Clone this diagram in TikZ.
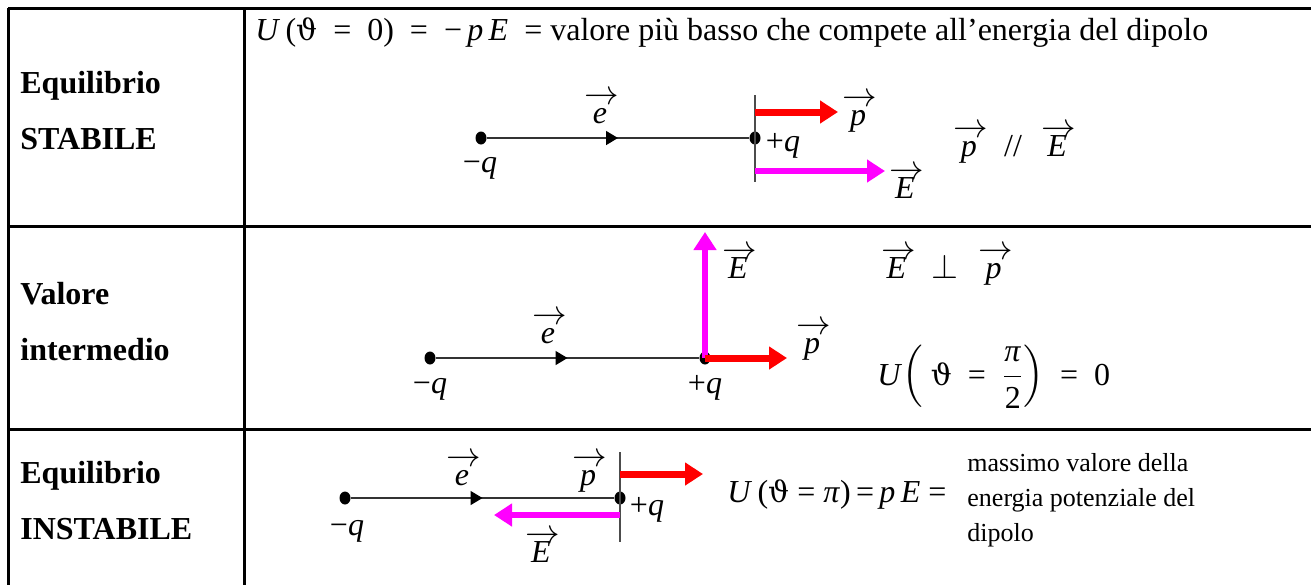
\documentclass[tikz,border=0pt]{standalone}
\usepackage{fontspec}
\setmainfont{Liberation Serif}
\newfontfamily\thetafont[Scale=0.92]{DejaVu Serif}
\usepackage{amsmath}
\usepackage{tikz}
\usetikzlibrary{arrows.meta,positioning,decorations.markings,shapes.geometric}
\usepackage{xcolor}
\definecolor{fieldmag}{RGB}{255,0,255}
\definecolor{dipred}{RGB}{255,0,0}

\newcommand{\vct}[1]{\ooalign{\hfil\textit{#1}\hfil\cr\hfil\kern2pt\raisebox{9.5pt}{$\rightarrow$}\hfil\cr}}

\begin{document}
\begin{tikzpicture}[
    x=0.5pt, y=-0.5pt,
    grid/.style={line width=1.5pt},
    rowlabel/.style={font=\bfseries\fontsize{16}{28}\selectfont, align=left, anchor=base west, inner sep=0},
    txt/.style={font=\fontsize{16}{19}\selectfont, anchor=base, inner sep=0},
    small/.style={font=\fontsize{13}{17.3}\selectfont, align=left, anchor=base west, inner sep=0},
    charge/.style={ellipse, fill, inner sep=0, minimum width=5.5pt, minimum height=6.5pt},
    dipole/.style={draw=black!80, line width=0.75pt, postaction={decorate},
        decoration={markings, mark=at position 0.5 with {\arrow[black]{Triangle[length=6pt,width=7pt]}}}},
    axis/.style={draw=black!70, line width=0.6pt},
    pvec/.style={draw=dipred, line width=3.5pt, -{Triangle[length=9pt,width=11pt]}},
    evec/.style={draw=fieldmag, line width=3pt, -{Triangle[length=9pt,width=11pt]}}
]
\useasboundingbox (0,0) rectangle (1311,585);

% table
\draw[grid] (8,8) -- (1311,8);
\draw[grid] (8,226) -- (1311,226);
\draw[grid] (8,429) -- (1311,429);
\draw[grid] (8,8) -- (8,585);
\draw[grid] (244,8) -- (244,585);

% row 1: equilibrio stabile
\node (lab1) [rowlabel] at (20,149) {Equilibrio\\STABILE};
\node (eq1) [txt, anchor=base west] at (255,40) {\textit{U}\,({\thetafont ϑ}~~=~~0)~~=~~−\,\textit{p\,E}~~=~valore più basso che compete all'energia del dipolo};
\node (nq1) [charge] at (481,138) {};
\node (pq1) [charge] at (755,138) {};
\coordinate (ax1t) at (755,95);
\coordinate (ax1b) at (755,182);
\coordinate (p1tip) at (838,112);
\coordinate (p1s) at (755,112);
\coordinate (E1tip) at (885,171);
\coordinate (E1s) at (755,171);
\draw[axis] (ax1t) -- (ax1b);
\draw[dipole] (nq1) -- (pq1);
\draw[pvec] (p1s) -- (p1tip);
\draw[evec] (E1s) -- (E1tip);
\node (e1) [txt] at (600,123) {\vct{e}};
\node (mq1) [txt] at (480,172) {−\textit{q}};
\node (qq1) [txt] at (783,151) {+\textit{q}};
\node (p1) [txt] at (858,125) {\vct{p}};
\node (E1) [txt] at (905,198) {\vct{E}};
\node (par1) [txt] at (1013,156) {\vct{p}~~//~~\vct{E}};

% row 2: valore intermedio
\node (lab2) [rowlabel] at (20,360) {Valore\\intermedio};
\node (nq2) [charge] at (430,358) {};
\node (pq2) [charge] at (705,358) {};
\coordinate (E2tip) at (705,232);
\coordinate (p2tip) at (787,358);
\draw[dipole] (nq2) -- (pq2);
\draw[evec] (pq2.center) -- (E2tip);
\draw[pvec] (pq2.center) -- (p2tip);
\node (e2) [txt] at (548,343) {\vct{e}};
\node (mq2) [txt] at (430,393) {−\textit{q}};
\node (qq2) [txt] at (705,393) {+\textit{q}};
\node (E2) [txt] at (738,278) {\vct{E}};
\node (p2) [txt] at (812,353) {\vct{p}};
\node (perp2) [txt] at (945,278) {\vct{E}~~$\perp$~~\vct{p}};
\node (U2) [txt, anchor=base west] at (877,385) {\textit{U}$\left(\mbox{~{\thetafont ϑ}~~=~~}\dfrac{\mbox{\textit{π}}}{\mbox{2}}\right)$~~=~~0};

% row 3: equilibrio instabile
\node (lab3) [rowlabel] at (20,539) {Equilibrio\\INSTABILE};
\node (nq3) [charge] at (345,498) {};
\node (pq3) [charge] at (620,498) {};
\coordinate (ax3t) at (620,452);
\coordinate (ax3b) at (620,542);
\coordinate (p3s) at (620,474);
\coordinate (p3tip) at (703,474);
\coordinate (E3s) at (620,515);
\coordinate (E3tip) at (494,515);
\draw[axis] (ax3t) -- (ax3b);
\draw[dipole] (nq3) -- (pq3);
\draw[pvec] (p3s) -- (p3tip);
\draw[evec] (E3s) -- (E3tip);
\node (e3) [txt] at (462,485) {\vct{e}};
\node (p3) [txt] at (588,485) {\vct{p}};
\node (mq3) [txt] at (347,535) {−\textit{q}};
\node (qq3) [txt] at (647,515) {+\textit{q}};
\node (E3) [txt] at (541,562) {\vct{E}};
\node (U3) [txt, anchor=base west] at (727,502) {\textit{U}\,({\thetafont ϑ} = \textit{π})\,=\,\textit{p\,E} =};
\node (max3) [small] at (967,541) {massimo valore della\\energia potenziale del\\dipolo};

\end{tikzpicture}
\end{document}
